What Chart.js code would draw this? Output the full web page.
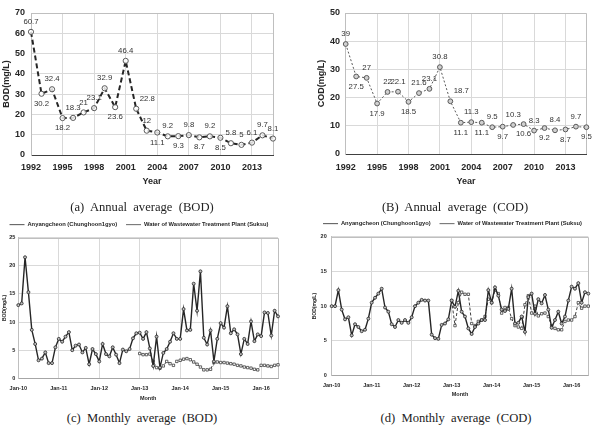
<!DOCTYPE html>
<html lang="en">
<head>
<meta charset="UTF-8">
<title>BOD / COD averages</title>
<script src="https://cdn.jsdelivr.net/npm/chart.js"></script>
<style>
  body { margin: 0; background: #fff; width: 595px; height: 432px; position: relative; overflow: hidden; }
  .box { position: absolute; }
  .cap { position: absolute; font-family: 'Liberation Serif', 'Times New Roman', serif; font-size: 12.6px; line-height: 16px;
         color: #222; white-space: pre; transform: translateX(-50%); }
</style>
</head>
<body>
<div class="box" style="left:0;top:0"><canvas id="bodYear" width="295" height="192"></canvas></div>
<div class="box" style="left:295px;top:0"><canvas id="codYear" width="300" height="192"></canvas></div>
<div class="box" style="left:0;top:213px"><canvas id="bodMonth" width="295" height="192"></canvas></div>
<div class="box" style="left:295px;top:212px"><canvas id="codMonth" width="300" height="189"></canvas></div>

<div class="cap" style="left:142px;top:199px">(a)  Annual  average  (BOD)</div>
<div class="cap" style="left:455px;top:199px">(B)  Annual  average  (COD)</div>
<div class="cap" style="left:142px;top:410px">(c)  Monthly  average  (BOD)</div>
<div class="cap" style="left:456px;top:410px">(d)  Monthly  average  (COD)</div>

<script>
// annual data
const years = ['1992','1993','1994','1995','1996','1997','1998','1999','2000','2001','2002','2003',
               '2004','2005','2006','2007','2008','2009','2010','2011','2012','2013','2014','2015'];
const bodAnnual = [60.7, 30.2, 32.4, 18.2, 18.3, 21, 23.1, 32.9, 23.6, 46.4, 22.8, 12,
                   11.1, 9.2, 9.3, 9.8, 8.7, 9.2, 8.5, 5.8, 5, 6.1, 9.7, 8.1];
const codAnnual = [39, 27.5, 27, 17.9, 22, 22.1, 18.5, 21.6, 23.1, 30.8, 18.7, 11.1,
                   11.3, 11.1, 9.5, 9.7, 10.3, 10.6, 8.3, 9.2, 8.4, 8.7, 9.7, 9.5];
// where each value label sits: a = above, b = below, r = above right
const bodLabelPos = ['a','b','a','b','a','a','a','a','b','a','r','a','b','a','b','a','b','a','b','a','a','a','a','a'];
const codLabelPos = ['a','b','a','b','a','a','b','a','a','a','r','b','a','b','a','b','a','b','a','b','a','b','a','b'];

// monthly data, Jan-10 .. Jun-16
const monthNames = ['Jan','Feb','Mar','Apr','May','Jun','Jul','Aug','Sep','Oct','Nov','Dec'];
const yearShort = ['10','11','12','13','14','15','16'];
const monthLabels = [];
yearShort.forEach(y => monthNames.forEach(m => monthLabels.push(m + '-' + y)));
monthLabels.length = 78;

const seriesNames = ['Anyangcheon (Chunghoon1gyo)', 'Water of Wastewater Treatment Plant (Suksu)'];

const bodRiver = [13.0, 13.3, 21.5, 15.3, 8.6, 6.1, 3.2, 3.5, 4.6, 2.7, 2.7, 5.5,
                  7.0, 6.5, 7.4, 8.2, 5.0, 5.8, 6.0, 4.6, 5.4, 2.5, 5.2, 4.3,
                  3.0, 6.1, 4.3, 3.9, 5.5, 4.2, 2.7, 5.1, 4.8, 5.2, 7.1, 8.0,
                  8.1, 7.0, 8.2, 5.3, 2.2, 7.4, 1.9, 4.5, 5.2, 6.5, 8.0, 7.0,
                  7.0, 12.3, 8.5, 8.6, 16.8, 12.0, 19.0, 7.2, 6.0, 8.5, 3.0, 7.0,
                  9.8, 9.0, 12.8, 8.0, 8.7, 7.8, 4.3, 7.0, 6.1, 10.1, 6.6, 7.8,
                  7.5, 11.7, 11.6, 7.6, 12.0, 11.0];
// plant series starts Jan-13
const bodPlant = [4.4, 4.2, 4.2, 4.3, 3.0, 1.9, 1.8, 2.2, 3.0, 2.6, 2.3, 3.0,
                  3.2, 3.4, 3.5, 3.3, 2.9, 2.5, 2.0, 1.5, 1.5, 1.6, 2.8, 2.9,
                  2.8, 2.8, 2.7, 2.6, 2.5, 2.3, 2.2, 2.0, 1.9, 1.8, 1.6, 1.5,
                  2.3, 2.3, 2.2, 2.1, 2.3, 2.4];
const codRiver = [10.0, 10.0, 12.3, 9.5, 8.1, 8.4, 5.8, 7.4, 7.0, 6.4, 6.6, 8.2,
                  10.5, 11.2, 11.8, 12.5, 9.8, 9.2, 7.4, 7.0, 8.0, 7.6, 8.0, 7.6,
                  8.4, 10.0, 10.5, 10.9, 10.8, 10.8, 5.9, 5.4, 5.3, 7.3, 7.5, 8.1,
                  10.8, 9.9, 12.2, 9.2, 8.5, 6.8, 6.0, 7.0, 7.5, 8.0, 8.0, 12.3,
                  10.5, 12.7, 11.5, 9.5, 9.3, 9.6, 12.5, 7.5, 7.6, 8.5, 6.3, 11.3,
                  11.8, 8.9, 11.0, 10.4, 11.6, 9.5, 6.9, 8.0, 9.2, 7.5, 8.5, 10.8,
                  12.8, 12.5, 13.3, 10.5, 12.0, 11.8];
const codPlant = [10.8, 7.2, 10.5, 12.0, 11.7, 11.7, 7.5, 7.2, 7.8, 8.0, 8.5, 11.0,
                  10.5, 12.3, 11.8, 9.0, 9.8, 9.8, 8.2, 7.2, 7.0, 6.8, 10.2, 11.5,
                  9.0, 10.0, 8.6, 8.9, 9.0, 8.5, 7.2, 6.8, 6.6, 6.6, 7.8, 8.0,
                  8.0, 8.5, 10.5, 9.7, 10.0, 10.0];
const plantStart = monthLabels.indexOf('Jan-13');

Chart.defaults.font.family = "'Liberation Sans', Arial, sans-serif";
Chart.defaults.color = '#262626';

// top and right edge of the plot box
const frame = {
  id: 'frame',
  beforeDatasetsDraw(chart) {
    const {left, top, right, bottom} = chart.chartArea;
    const ctx = chart.ctx;
    ctx.save();
    ctx.strokeStyle = '#bfbfbf';
    ctx.lineWidth = 1;
    ctx.beginPath();
    ctx.moveTo(left, Math.round(top) + 0.5);
    ctx.lineTo(Math.round(right) + 0.5, Math.round(top) + 0.5);
    ctx.lineTo(Math.round(right) + 0.5, bottom);
    ctx.stroke();
    ctx.restore();
  }
};

// value labels next to the annual points
const pointLabels = {
  id: 'pointLabels',
  afterDatasetsDraw(chart, args, opts) {
    if (!opts.pos) return;
    const ctx = chart.ctx;
    const ds = chart.data.datasets[0].data;
    ctx.save();
    ctx.font = "7.8px 'Liberation Sans', Arial, sans-serif";
    ctx.fillStyle = '#333';
    ctx.textAlign = 'center';
    ctx.textBaseline = 'middle';
    chart.getDatasetMeta(0).data.forEach((p, i) => {
      let x = p.x, y = p.y - 10;
      if (opts.pos[i] === 'b') y = p.y + 10;
      if (opts.pos[i] === 'r') x = p.x + 11;
      ctx.fillText(String(ds[i]), x, y);
    });
    ctx.restore();
  }
};

function lineChart(id, o) {
  return new Chart(document.getElementById(id), {
    type: 'line',
    data: { labels: o.labels, datasets: o.datasets },
    options: {
      responsive: false,
      animation: false,
      events: [],
      layout: { padding: o.padding },
      plugins: {
        legend: o.legend || { display: false },
        tooltip: { enabled: false },
        pointLabels: o.pointLabels || {}
      },
      scales: {
        x: {
          grid: { drawTicks: false, color: c => o.showTick(c.index) ? '#d9d9d9' : 'rgba(0,0,0,0)' },
          border: { color: o.xBorder, width: 1 },
          ticks: {
            autoSkip: false, maxRotation: 0, padding: o.xTickPad, font: o.tickFont,
            callback: function (v, i) { return o.showTick(i) ? this.getLabelForValue(v) : ''; }
          },
          title: { display: true, text: o.xTitle, font: o.xTitleFont, padding: { top: 0, bottom: o.xTitlePad } },
          afterFit: s => { s.height = o.xHeight; }
        },
        y: {
          min: 0, max: o.yMax,
          grid: { drawTicks: false, color: '#d9d9d9' },
          border: { color: '#bfbfbf' },
          ticks: { stepSize: o.yStep, autoSkip: false, padding: o.yTickPad, font: o.tickFont },
          title: { display: true, text: o.yTitle, font: o.yTitleFont, padding: { top: o.yTitlePad, bottom: 0 } },
          afterFit: s => { s.width = o.yWidth; }
        }
      }
    },
    plugins: [frame, pointLabels]
  });
}

const every3 = i => i % 3 === 0;
const everyJan = i => i % 12 === 0;
const annualFont = { size: 9, weight: 'bold' };
const monthFont = { size: 5.5, weight: 'bold' };

lineChart('bodYear', {
  labels: years,
  datasets: [{
    data: bodAnnual, borderColor: '#262626', borderWidth: 2, borderDash: [5, 3],
    pointRadius: 2.6, pointBorderColor: '#595959', pointBorderWidth: 1,
    pointBackgroundColor: 'rgba(255,255,255,0.8)', clip: false
  }],
  padding: { left: 0, top: 13, right: 22, bottom: 0 },
  showTick: every3, xBorder: '#404040', tickFont: annualFont,
  xTickPad: 7.6, xTitle: 'Year', xTitleFont: annualFont, xTitlePad: 4.6, xHeight: 37,
  yMax: 70, yStep: 10, yTickPad: 6, yTitle: 'BOD(mg/L)', yTitleFont: annualFont, yTitlePad: 1.6, yWidth: 31,
  pointLabels: { pos: bodLabelPos }
});

lineChart('codYear', {
  labels: years,
  datasets: [{
    data: codAnnual, borderColor: '#595959', borderWidth: 1, borderDash: [2, 2],
    pointRadius: 2.4, pointBorderColor: '#595959', pointBorderWidth: 1,
    pointBackgroundColor: '#d0d0d0', clip: false
  }],
  padding: { left: 20, top: 13, right: 7.3, bottom: 0 },
  showTick: every3, xBorder: '#404040', tickFont: annualFont,
  xTickPad: 8.6, xTitle: 'Year', xTitleFont: annualFont, xTitlePad: 4.6, xHeight: 38,
  yMax: 50, yStep: 10, yTickPad: 5.7, yTitle: 'COD(mg/L)', yTitleFont: annualFont, yTitlePad: 1.6, yWidth: 30.7,
  pointLabels: { pos: codLabelPos }
});

function monthlySets(river, plant) {
  return [{
    label: seriesNames[0], data: river,
    borderColor: '#262626', borderWidth: 1.4,
    pointRadius: 1.5, pointBorderColor: '#262626', pointBorderWidth: 0.8, pointBackgroundColor: '#bfbfbf', clip: false
  }, {
    label: seriesNames[1], data: new Array(plantStart).fill(null).concat(plant),
    borderColor: '#404040', borderWidth: 1, borderDash: [3, 2],
    pointStyle: 'rect', pointRadius: 1.7, pointBorderColor: '#404040', pointBorderWidth: 0.8,
    pointBackgroundColor: '#fff', clip: false
  }];
}

const monthLegend = {
  display: true, position: 'top', align: 'center',
  labels: {
    usePointStyle: true, pointStyle: 'line', pointStyleWidth: 15, boxHeight: 6,
    padding: 8.75, font: { size: 5.8, weight: 'bold' }
  }
};

lineChart('bodMonth', {
  labels: monthLabels,
  datasets: monthlySets(bodRiver, bodPlant),
  legend: monthLegend,
  padding: { left: 0, top: 0, right: 17, bottom: 0 },
  showTick: everyJan, xBorder: '#a6a6a6', tickFont: monthFont,
  xTickPad: 6.4, xTitle: 'Month', xTitleFont: monthFont, xTitlePad: 3.7, xHeight: 26.7,
  yMax: 25, yStep: 5, yTickPad: 3, yTitle: 'BOD(mg/L)', yTitleFont: { size: 5, weight: 'bold' }, yTitlePad: 2, yWidth: 18.3
});

lineChart('codMonth', {
  labels: monthLabels,
  datasets: monthlySets(codRiver, codPlant),
  legend: monthLegend,
  padding: { left: 16, top: 0, right: 1, bottom: 0 },
  showTick: everyJan, xBorder: '#a6a6a6', tickFont: monthFont,
  xTickPad: 6.7, xTitle: 'Month', xTitleFont: monthFont, xTitlePad: 3.7, xHeight: 25.3,
  yMax: 20, yStep: 5, yTickPad: 5, yTitle: 'BOD(mg/L)', yTitleFont: { size: 5, weight: 'bold' }, yTitlePad: 1, yWidth: 20.7
});
</script>
</body>
</html>
